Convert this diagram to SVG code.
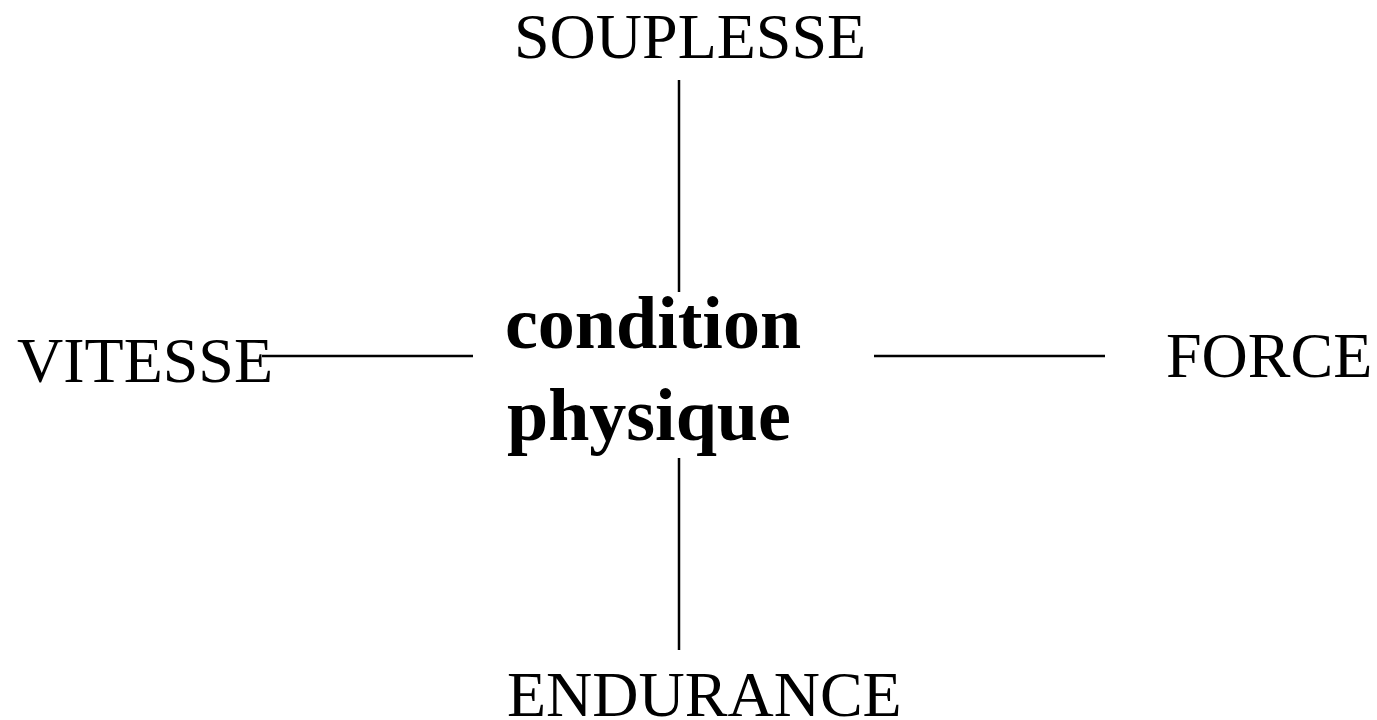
<svg xmlns="http://www.w3.org/2000/svg" width="1377" height="720" viewBox="0 0 1377 720">
<style>
.lbl{font-family:"Liberation Serif","Times New Roman",serif;font-size:64px;fill:#000}
.ctr{font-family:"Liberation Serif","Times New Roman",serif;font-size:74px;font-weight:bold;fill:#000}
.conn line{stroke:#000;stroke-width:2.5}
</style>
<rect width="1377" height="720" fill="#fff"/>
<g id="connectors" class="conn">
<line x1="679" y1="80" x2="679" y2="292"/>
<line x1="679" y1="458" x2="679" y2="650"/>
<line x1="262" y1="356" x2="473" y2="356"/>
<line x1="874" y1="356" x2="1105" y2="356"/>
</g>
<g id="center"><text class="ctr" x="505" y="348">condition</text><text class="ctr" x="507" y="440">physique</text></g>
<g id="souplesse"><text class="lbl" x="514" y="58">SOUPLESSE</text></g>
<g id="vitesse"><text class="lbl" x="17" y="382">VITESSE</text></g>
<g id="force"><text class="lbl" x="1166" y="377">FORCE</text></g>
<g id="endurance"><text class="lbl" x="507" y="716">ENDURANCE</text></g>
</svg>
